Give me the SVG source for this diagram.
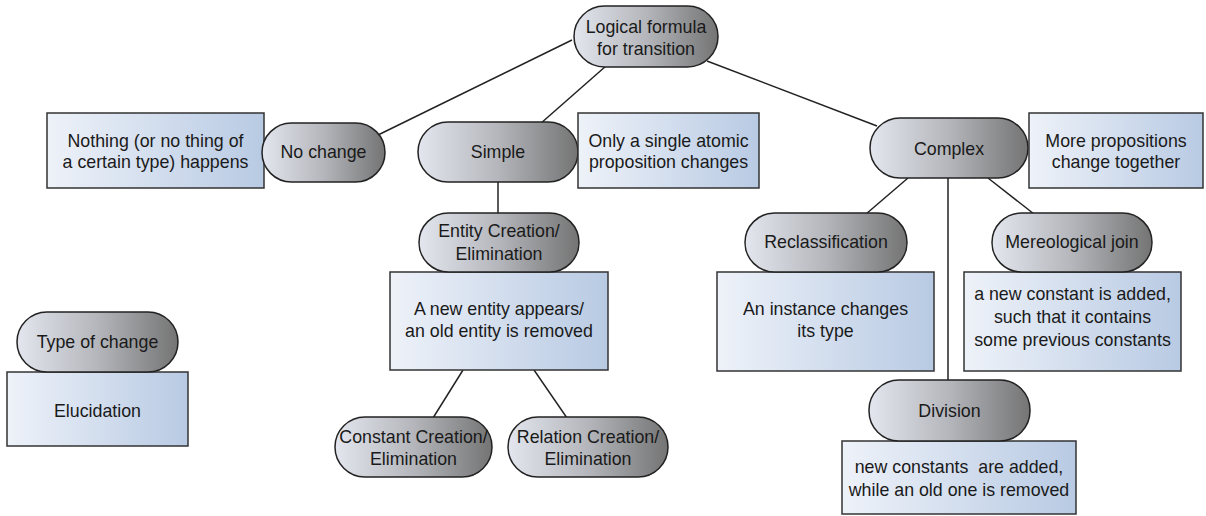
<svg xmlns="http://www.w3.org/2000/svg" width="1206" height="516" viewBox="0 0 1206 516">
<defs>
<linearGradient id="pillGrad" x1="0" y1="0" x2="1" y2="0">
<stop offset="0" stop-color="#e3e6ee"/>
<stop offset="0.5" stop-color="#b4b6bb"/>
<stop offset="1" stop-color="#747474"/>
</linearGradient>
<linearGradient id="boxGrad" x1="0" y1="0" x2="1" y2="0">
<stop offset="0" stop-color="#eef2f9"/>
<stop offset="1" stop-color="#b8cae3"/>
</linearGradient>
<style>
.pill{fill:url(#pillGrad);stroke:#222;stroke-width:1.5}
.box{fill:url(#boxGrad);stroke:#333;stroke-width:1.5}
.t{font-family:"Liberation Sans",Arial,sans-serif;font-size:17.8px;fill:#1a1a1a;text-anchor:middle}
.conn line{stroke:#222;stroke-width:1.5}
</style>
</defs>
<rect width="1206" height="516" fill="#ffffff"/>
<g id="connectors" class="conn">
<line x1="572" y1="40" x2="376" y2="136"/>
<line x1="606" y1="66" x2="540" y2="124"/>
<line x1="707" y1="61" x2="877" y2="126"/>
<line x1="498" y1="182" x2="498" y2="213"/>
<line x1="463" y1="370" x2="433" y2="418"/>
<line x1="534" y1="370" x2="567" y2="418"/>
<line x1="908" y1="178" x2="866" y2="214"/>
<line x1="948" y1="178" x2="948" y2="380"/>
<line x1="988" y1="178" x2="1034" y2="214"/>
</g>
<g id="root">
<rect class="pill" x="574" y="6" width="144" height="61" rx="30.5"/>
<text class="t" x="646" y="33">Logical formula</text>
<text class="t" x="646" y="55">for transition</text>
</g>
<g id="nothing-box">
<rect class="box" x="47" y="113" width="217" height="75"/>
<text class="t" x="155.5" y="147">Nothing (or no thing of</text>
<text class="t" x="155.5" y="168">a certain type) happens</text>
</g>
<g id="no-change">
<rect class="pill" x="262" y="123" width="123" height="59" rx="29.5"/>
<text class="t" x="323.5" y="158">No change</text>
</g>
<g id="simple">
<rect class="pill" x="418" y="122" width="160" height="60" rx="30"/>
<text class="t" x="498" y="158">Simple</text>
</g>
<g id="simple-box">
<rect class="box" x="578" y="113" width="181" height="75"/>
<text class="t" x="668.5" y="147">Only a single atomic</text>
<text class="t" x="668.5" y="168">proposition changes</text>
</g>
<g id="complex">
<rect class="pill" x="870" y="118" width="158" height="60" rx="30"/>
<text class="t" x="949" y="155">Complex</text>
</g>
<g id="complex-box">
<rect class="box" x="1029" y="113" width="174" height="75"/>
<text class="t" x="1116" y="147">More propositions</text>
<text class="t" x="1116" y="168">change together</text>
</g>
<g id="entity-box">
<rect class="box" x="390" y="272" width="218" height="98"/>
<text class="t" x="499" y="315">A new entity appears/</text>
<text class="t" x="499" y="337">an old entity is removed</text>
</g>
<g id="entity">
<rect class="pill" x="419" y="213" width="160" height="59" rx="29.5"/>
<text class="t" x="499" y="237">Entity Creation/</text>
<text class="t" x="499" y="260">Elimination</text>
</g>
<g id="constant">
<rect class="pill" x="335" y="417" width="157" height="60" rx="30"/>
<text class="t" x="413.5" y="443">Constant Creation/</text>
<text class="t" x="413.5" y="465">Elimination</text>
</g>
<g id="relation">
<rect class="pill" x="508" y="417" width="160" height="60" rx="30"/>
<text class="t" x="588" y="443">Relation Creation/</text>
<text class="t" x="588" y="465">Elimination</text>
</g>
<g id="legend-box">
<rect class="box" x="7" y="372" width="181" height="74"/>
<text class="t" x="97.5" y="417">Elucidation</text>
</g>
<g id="legend-pill">
<rect class="pill" x="17" y="312" width="161" height="60" rx="30"/>
<text class="t" x="97.5" y="348">Type of change</text>
</g>
<g id="reclass-box">
<rect class="box" x="717" y="272" width="217" height="99"/>
<text class="t" x="825.5" y="315">An instance changes</text>
<text class="t" x="825.5" y="337">its type</text>
</g>
<g id="reclass">
<rect class="pill" x="745" y="213" width="162" height="59" rx="29.5"/>
<text class="t" x="826" y="248">Reclassification</text>
</g>
<g id="mereo-box">
<rect class="box" x="964" y="272" width="217" height="99"/>
<text class="t" x="1072.5" y="300">a new constant is added,</text>
<text class="t" x="1072.5" y="323">such that it contains</text>
<text class="t" x="1072.5" y="346">some previous constants</text>
</g>
<g id="mereo">
<rect class="pill" x="992" y="213" width="160" height="59" rx="29.5"/>
<text class="t" x="1072" y="248">Mereological join</text>
</g>
<g id="division-box">
<rect class="box" x="842" y="441" width="234" height="73"/>
<text class="t" x="959" y="473">new constants&#160; are added,</text>
<text class="t" x="959" y="496">while an old one is removed</text>
</g>
<g id="division">
<rect class="pill" x="869" y="380" width="161" height="61" rx="30"/>
<text class="t" x="949.5" y="417">Division</text>
</g>
</svg>
